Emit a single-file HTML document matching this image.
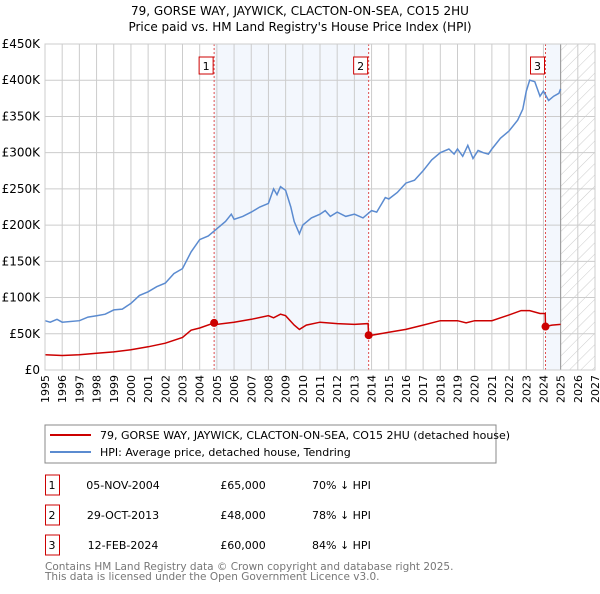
<!DOCTYPE html>
<html><head><meta charset="utf-8"><style>
body{margin:0;background:#fff;font-family:"DejaVu Sans","Liberation Sans",sans-serif;}
svg text{font-family:"DejaVu Sans","Liberation Sans",sans-serif;}
</style></head><body>
<svg id="c" width="600" height="590" viewBox="0 0 600 590">
<defs><pattern id="hatch" width="8" height="8" patternUnits="userSpaceOnUse" patternTransform="rotate(45)"><line x1="0" y1="0" x2="0" y2="8" stroke="#ccc" stroke-width="1"/></pattern></defs>
<text x="300" y="15" text-anchor="middle" font-size="12">79, GORSE WAY, JAYWICK, CLACTON-ON-SEA, CO15 2HU</text>
<text x="300" y="31" text-anchor="middle" font-size="12">Price paid vs. HM Land Registry's House Price Index (HPI)</text>
<g id="plot"></g>
<rect x="45" y="425" width="451" height="38" fill="#fff" stroke="#888"/>
<line x1="50" y1="435" x2="91" y2="435" stroke="#cc0000" stroke-width="2"/>
<text x="100" y="439" font-size="11">79, GORSE WAY, JAYWICK, CLACTON-ON-SEA, CO15 2HU (detached house)</text>
<line x1="50" y1="452" x2="91" y2="452" stroke="#5b8bd0" stroke-width="2"/>
<text x="100" y="456" font-size="11">HPI: Average price, detached house, Tendring</text>
<g id="tbl" font-size="11"></g>
<text x="45" y="570" font-size="10.5" fill="#777">Contains HM Land Registry data © Crown copyright and database right 2025.</text>
<text x="45" y="580" font-size="10.5" fill="#777">This data is licensed under the Open Government Licence v3.0.</text>
</svg>
<script>
const hpiT=[1995,1995.3,1995.7,1996,1997,1997.5,1998,1998.5,1999,1999.5,2000,2000.5,2001,2001.5,2002,2002.5,2003,2003.5,2004,2004.5,2005,2005.5,2005.84,2006,2006.5,2007,2007.5,2008,2008.3,2008.5,2008.7,2009,2009.3,2009.5,2009.8,2010,2010.5,2011,2011.3,2011.6,2012,2012.5,2013,2013.5,2014,2014.3,2014.8,2015,2015.5,2016,2016.5,2017,2017.5,2018,2018.5,2018.8,2019,2019.3,2019.6,2019.9,2020.2,2020.5,2020.8,2021,2021.5,2022,2022.5,2022.8,2023,2023.2,2023.5,2023.8,2024,2024.3,2024.6,2024.9,2025];
const hpiV=[68,66,70,66,68,73,75,77,83,84,92,103,108,115,120,133,140,163,180,185,195,205,215,208,212,218,225,230,250,242,253,248,225,205,188,200,210,215,220,212,218,212,215,210,220,218,238,236,245,258,262,275,290,300,305,298,305,295,310,292,303,300,298,305,320,330,345,360,385,400,398,378,385,372,378,382,388];
const ppT=[1995,1996,1997,1998,1999,2000,2001,2002,2003,2003.5,2004,2004.84,2005,2006,2007,2008,2008.3,2008.7,2009,2009.5,2009.8,2010.2,2011,2012,2013,2013.8,2013.83,2014,2015,2016,2017,2018,2019,2019.5,2020,2021,2021.5,2022,2022.7,2023.2,2023.8,2024.1,2024.12,2024.5,2025];
const ppV=[21,20,21,23,25,28,32,37,45,55,58,65,63,66,70,75,72,77,75,62,56,62,66,64,63,64,48,48,52,56,62,68,68,65,68,68,72,76,82,82,78,78,60,62,63];
const saleT=[2004.84,2013.83,2024.12];
const saleV=[65,48,60];
const saleLabels=["1","2","3"];
const saleDates=["05-NOV-2004","29-OCT-2013","12-FEB-2024"];
const salePrices=["£65,000","£48,000","£60,000"];
const saleDiffs=["70% ↓ HPI","78% ↓ HPI","84% ↓ HPI"];
const yTicks=[0,50,100,150,200,250,300,350,400,450];
const yTickLabels=["£0","£50K","£100K","£150K","£200K","£250K","£300K","£350K","£400K","£450K"];
const xYears=[1995,1996,1997,1998,1999,2000,2001,2002,2003,2004,2005,2006,2007,2008,2009,2010,2011,2012,2013,2014,2015,2016,2017,2018,2019,2020,2021,2022,2023,2024,2025,2026,2027];

const X0=45,X1=595,Y0=370,Y1=44;
const xs=t=>X0+(t-1995)*(X1-X0)/32;
const ys=v=>Y0-v*(Y0-Y1)/450;
const NS="http://www.w3.org/2000/svg";
const plot=document.getElementById('plot');
function mk(tag,attrs,parent){const e=document.createElementNS(NS,tag);for(const k in attrs)e.setAttribute(k,attrs[k]);(parent||plot).appendChild(e);return e;}

let r=mk('rect',{x:xs(saleT[0]),y:Y1,width:xs(saleT[1])-xs(saleT[0]),height:Y0-Y1,fill:'#eef3fc',opacity:0.7});


r=mk('rect',{x:xs(saleT[2]),y:Y1,width:xs(2025)-xs(saleT[2]),height:Y0-Y1,fill:'#eef3fc',opacity:0.7});


r=mk('rect',{x:xs(2025),y:Y1,width:X1-xs(2025),height:Y0-Y1,fill:'url(#hatch)'});



xYears.forEach(y=>{const l=mk('line',{x1:xs(y),x2:xs(y),y1:Y1,y2:Y0,stroke:'#ccc','stroke-width':1});


const t=mk('text',{x:0,y:0,'font-size':11,'text-anchor':'end',transform:`translate(${xs(y)+4},375) rotate(-90)`});t.textContent=y;

});
yTicks.forEach((v,i)=>{const l=mk('line',{x1:X0,x2:X1,y1:ys(v),y2:ys(v),stroke:'#ccc','stroke-width':1});


const t=mk('text',{x:40,y:ys(v)+4,'font-size':12,'text-anchor':'end'});t.textContent=yTickLabels[i];

});
const bd=mk('line',{x1:xs(2025),x2:xs(2025),y1:Y1,y2:Y0,stroke:'#999','stroke-width':1});



saleT.forEach((t,i)=>{const l=mk('line',{x1:xs(t),x2:xs(t),y1:Y1,y2:Y0,stroke:'#e05050','stroke-width':1,'stroke-dasharray':'2,2'});


const b=mk('rect',{x:xs(t)-15,y:57,width:14,height:17,fill:'#fff',stroke:'#cc0000'});


const tx=mk('text',{x:xs(t)-8,y:70,'font-size':11,'text-anchor':'middle'});tx.textContent=saleLabels[i];

});

const hp=mk('path',{d:hpiT.map((t,i)=>(i?'L':'M')+xs(t).toFixed(1)+','+ys(hpiV[i]).toFixed(1)).join(''),fill:'none',stroke:'#5b8bd0','stroke-width':1.5});


const pp=mk('path',{d:ppT.map((t,i)=>(i?'L':'M')+xs(t).toFixed(1)+','+ys(ppV[i]).toFixed(1)).join(''),fill:'none',stroke:'#cc0000','stroke-width':1.5});


saleT.forEach((t,i)=>{const c=mk('circle',{cx:xs(t),cy:ys(saleV[i]),r:4,fill:'#cc0000'});

});
const ax=mk('rect',{x:X0,y:Y1,width:X1-X0,height:Y0-Y1,fill:'none',stroke:'#ccc'});



const tbl=document.getElementById('tbl');
saleT.forEach((t,i)=>{const y=485+i*30;
const b=mk('rect',{x:45.5,y:y-10,width:14,height:20,fill:'#fff',stroke:'#cc0000'},tbl);


const cols=[[52,saleLabels[i],'middle'],[123,saleDates[i],'middle'],[243,salePrices[i],'middle'],[312,saleDiffs[i],'start']];
cols.forEach((c,j)=>{const tx=mk('text',{x:c[0],y:y+4,'text-anchor':c[2]},tbl);tx.textContent=c[1];

});});
</script>
</body></html>
